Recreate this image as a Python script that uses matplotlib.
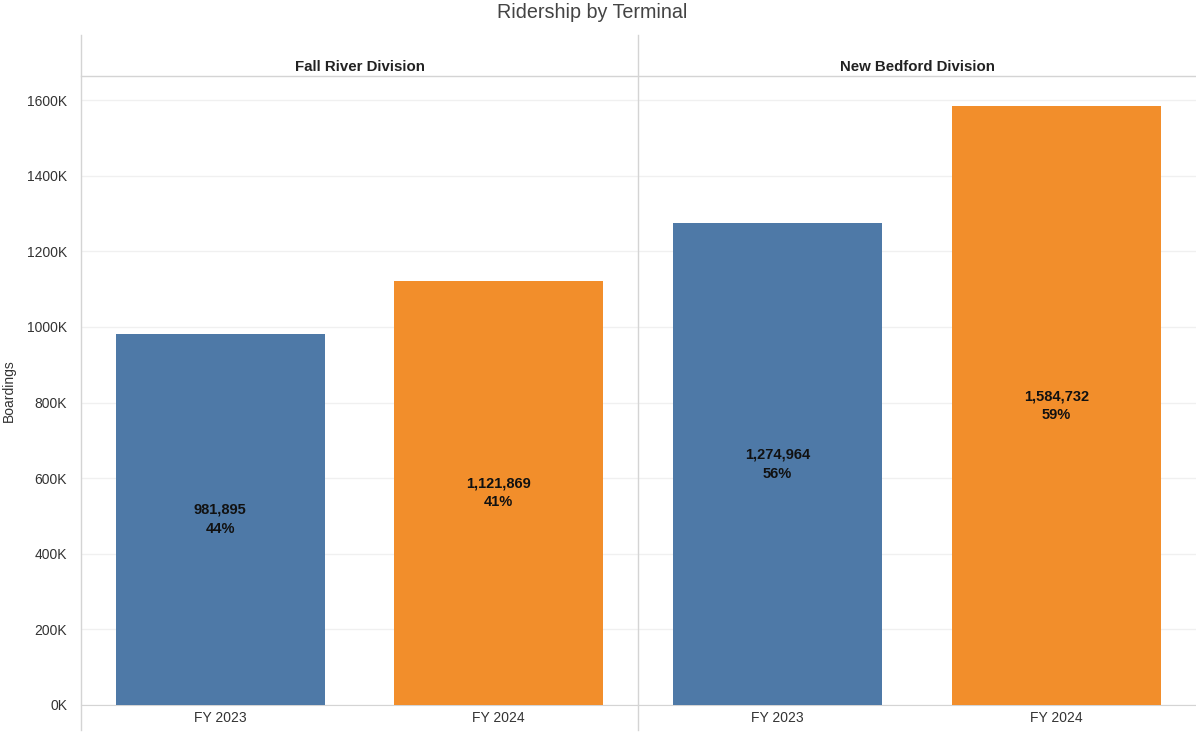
import numpy as np
import matplotlib
matplotlib.use('Agg')
from matplotlib import pyplot as plt
from matplotlib.lines import Line2D
from matplotlib.ticker import FuncFormatter

plt.rcParams['font.family'] = ['Liberation Sans', 'DejaVu Sans']

divisions = ['Fall River Division', 'New Bedford Division']
years = ['FY 2023', 'FY 2024']
fall_river = [981895, 1121869]
new_bedford = [1274964, 1584732]
colors = ['#4E79A7', '#F28E2B']

W, H = 1196, 732
fig = plt.figure(figsize=(W / 100, H / 100), dpi=100)

# share of each fiscal year's total boardings
totals = np.array(fall_river) + np.array(new_bedford)

def fx(px):
    return px / W

def fy(py):
    return 1 - py / H

panels = [(81, 638, fall_river), (638, 1196, new_bedford)]
top, base = 76, 705
ymax = 1664000

for i, (x0, x1, vals) in enumerate(panels):
    ax = fig.add_axes([fx(x0), fy(base), fx(x1 - x0), (base - top) / H])
    xs = np.arange(len(years))
    ax.bar(xs, vals, width=0.75, color=colors, zorder=3)
    ax.set_xlim(-0.5, 1.5)
    ax.set_ylim(0, ymax)
    ax.set_yticks(np.arange(0, 1600001, 200000))
    ax.yaxis.grid(True, color='#f0f0f0', linewidth=1, zorder=0)
    for s in ax.spines.values():
        s.set_visible(False)
    ax.spines['bottom'].set_visible(True)
    ax.spines['bottom'].set_color('#d4d4d4')
    ax.set_xticks(xs)
    ax.set_xticklabels(years, fontsize=10, color='#333333')
    ax.tick_params(axis='x', length=0, pad=4)
    if i == 0:
        ax.yaxis.set_major_formatter(FuncFormatter(lambda v, p: '%dK' % (v / 1000)))
        ax.tick_params(axis='y', length=0, labelsize=10, labelcolor='#333333', pad=10)
        ax.set_ylabel('Boardings', fontsize=10, color='#333333', labelpad=8)
    else:
        ax.tick_params(axis='y', length=0, labelleft=False)
    for x, v, t in zip(xs, vals, totals):
        ax.text(x, v / 2, '{:,}\n{:.0f}%'.format(v, 100 * v / t), ha='center',
                va='center', fontsize=10.5, fontweight='bold', color='#111111',
                linespacing=1.45, zorder=4)
    fig.text(fx((x0 + x1) / 2), fy(67), divisions[i], ha='center', va='center',
             fontsize=10.8, fontweight='bold', color='#222222')

fig.text(fx(592), fy(13), 'Ridership by Terminal', ha='center', va='center',
         fontsize=14.2, color='#444444')

# panel frame lines
for x in (81, 638):
    fig.add_artist(Line2D([fx(x), fx(x)], [fy(35), fy(730)], color='#d4d4d4', lw=1))
fig.add_artist(Line2D([fx(81), fx(1196)], [fy(76), fy(76)], color='#d4d4d4', lw=1))

plt.savefig('out.png', dpi=100)
